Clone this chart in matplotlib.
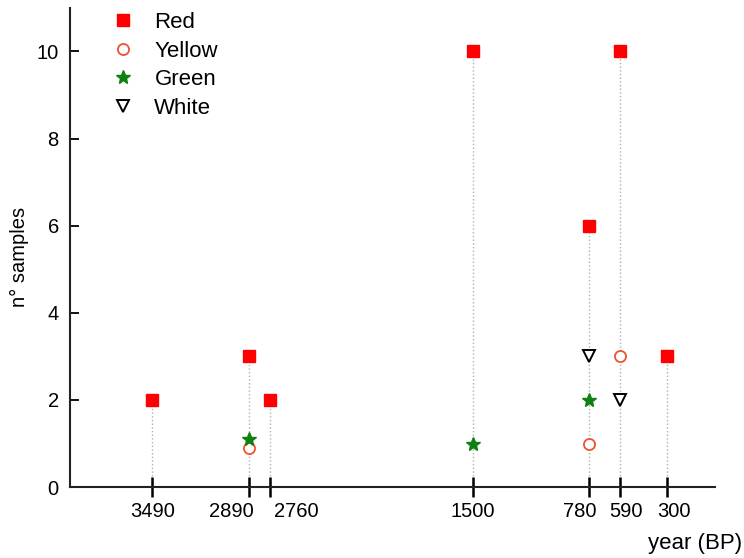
import matplotlib
matplotlib.use("Agg")
import matplotlib.pyplot as plt
from matplotlib.transforms import ScaledTranslation

plt.rcParams['font.family'] = ['Liberation Sans', 'DejaVu Sans']

# data
years = [3490, 2890, 2760, 1500, 780, 590, 300]
red_x = [3490, 2890, 2760, 1500, 780, 590, 300]
red_y = [2, 3, 2, 10, 6, 10, 3]
yellow_x = [2890, 780, 590]
yellow_y = [0.9, 1, 3]
green_x = [2890, 1500, 780]
green_y = [1.1, 1, 2]
white_x = [780, 590]
white_y = [3, 2]

fig = plt.figure(figsize=(7.44, 5.58), dpi=100)
ax = fig.add_axes([0.094, 0.127, 0.867, 0.859])

# dotted stems up to the highest point of each year
tops = {}
for xs, ys in [(red_x, red_y), (yellow_x, yellow_y), (green_x, green_y), (white_x, white_y)]:
    for x, y in zip(xs, ys):
        tops[x] = max(tops.get(x, 0), y)
for x in years:
    ax.plot([x, x], [0, tops[x]], ls=':', color='#b0b0b0', lw=1, zorder=1)

ax.plot(red_x, red_y, 's', color='#ff0000', ms=8, ls='none', label='Red', zorder=3)
ax.plot(yellow_x, yellow_y, 'o', mfc='white', mec='#f05030', mew=1.3, ms=8, ls='none', label='Yellow', zorder=3)
ax.plot(green_x, green_y, '*', color='#108010', ms=10, ls='none', label='Green', zorder=4)
ax.plot(white_x, white_y, 'v', mfc='white', mec='black', mew=1.4, ms=8.5, ls='none', label='White', zorder=3)

ax.set_xlim(4000, 0)
ax.set_ylim(0, 11)
ax.set_xticks(years)
ax.set_xticklabels([str(y) for y in years])
ax.set_yticks([0, 2, 4, 6, 8, 10])

for s in ['top', 'right']:
    ax.spines[s].set_visible(False)
for s in ['left', 'bottom']:
    ax.spines[s].set_linewidth(1.5)
    ax.spines[s].set_color('#222222')

ax.tick_params(axis='y', direction='in', length=6.5, width=1.3, labelsize=14.5, pad=8)
ax.tick_params(axis='x', direction='inout', length=14, width=1.8, labelsize=14.5, pad=4)

# crowded labels are nudged sideways, as in the original
shifts = [0, -18, 26, 0, -9, 6, 7]
for lab, dx in zip(ax.get_xticklabels(), shifts):
    lab.set_transform(lab.get_transform() + ScaledTranslation(dx / 100, 0, fig.dpi_scale_trans))

ax.set_ylabel('n° samples', fontsize=14.5)
ax.yaxis.set_label_coords(-0.063, 0.48)
fig.text(0.998, 0.008, 'year (BP)', ha='right', va='bottom', fontsize=16)

ax.legend(loc='upper left', bbox_to_anchor=(0.031, 1.033), frameon=False, fontsize=16,
          handletextpad=0.8, labelspacing=0.34, handlelength=1.2)

fig.savefig('out.png', dpi=100)
